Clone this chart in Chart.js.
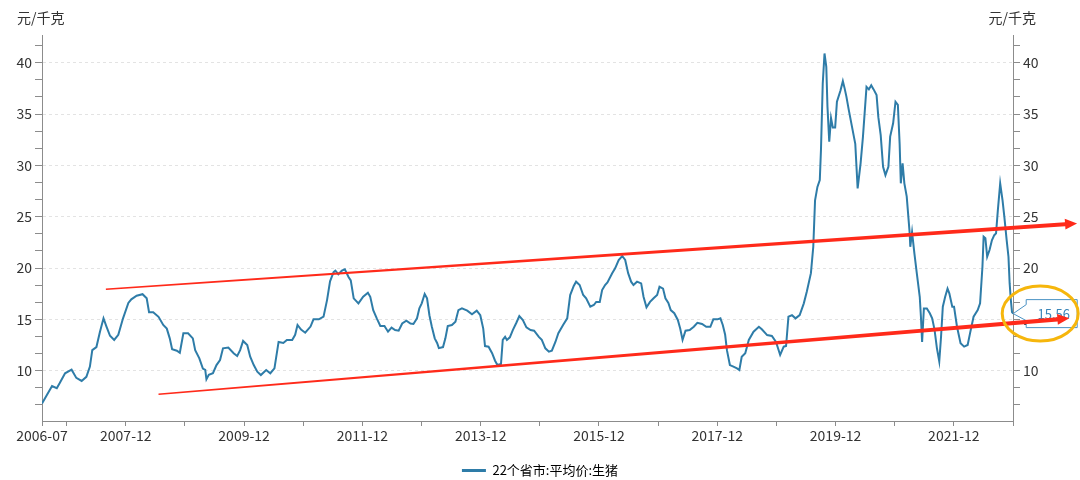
<!DOCTYPE html>
<html>
<head>
<meta charset="utf-8">
<script src="https://cdn.jsdelivr.net/npm/chart.js@4/dist/chart.umd.min.js"></script>
<style>
  html, body { margin: 0; padding: 0; background: #fff; }
</style>
</head>
<body>
<canvas id="myChart" width="1080" height="480"></canvas>
<script>
// 22个省市 生猪平均价 (decimal year, 元/千克)
var years = [
  2006.50,2006.58,2006.67,2006.75,2006.80,2006.89,2007.00,2007.08,2007.17,2007.25,
  2007.31,2007.35,2007.42,2007.48,2007.54,2007.59,2007.65,2007.72,2007.79,2007.87,
  2007.96,2008.01,2008.10,2008.20,2008.27,2008.31,2008.38,2008.47,2008.55,2008.61,
  2008.66,2008.70,2008.78,2008.83,2008.89,2008.97,2009.05,2009.09,2009.16,2009.22,
  2009.26,2009.28,2009.32,2009.39,2009.45,2009.51,2009.56,2009.65,2009.74,2009.80,
  2009.85,2009.90,2009.97,2010.02,2010.08,2010.14,2010.20,2010.29,2010.36,2010.43,
  2010.50,2010.58,2010.64,2010.73,2010.78,2010.82,2010.88,2010.95,2011.04,2011.09,
  2011.18,2011.26,2011.32,2011.37,2011.43,2011.46,2011.51,2011.57,2011.62,2011.68,
  2011.72,2011.77,2011.85,2011.93,2012.01,2012.05,2012.10,2012.16,2012.22,2012.29,
  2012.35,2012.41,2012.47,2012.53,2012.59,2012.66,2012.73,2012.78,2012.84,2012.88,
  2012.92,2012.97,2013.01,2013.05,2013.09,2013.14,2013.18,2013.21,2013.28,2013.32,
  2013.36,2013.43,2013.49,2013.54,2013.60,2013.69,2013.77,2013.85,2013.91,2013.96,
  2013.99,2014.05,2014.11,2014.16,2014.20,2014.26,2014.29,2014.33,2014.36,2014.41,
  2014.46,2014.52,2014.57,2014.63,2014.69,2014.76,2014.82,2014.90,2014.95,2015.01,
  2015.07,2015.12,2015.18,2015.23,2015.31,2015.38,2015.43,2015.49,2015.53,2015.59,
  2015.65,2015.70,2015.77,2015.83,2015.87,2015.93,2015.97,2016.02,2016.06,2016.14,
  2016.19,2016.25,2016.31,2016.36,2016.41,2016.46,2016.50,2016.56,2016.63,2016.67,
  2016.72,2016.78,2016.84,2016.90,2016.94,2017.00,2017.04,2017.09,2017.13,2017.19,
  2017.25,2017.29,2017.33,2017.38,2017.45,2017.52,2017.58,2017.66,2017.73,2017.80,
  2017.85,2017.92,2017.97,2018.01,2018.05,2018.08,2018.13,2018.19,2018.25,2018.29,
  2018.33,2018.39,2018.45,2018.53,2018.62,2018.67,2018.76,2018.84,2018.91,2018.98,
  2019.04,2019.08,2019.12,2019.18,2019.24,2019.31,2019.38,2019.43,2019.50,2019.54,
  2019.57,2019.61,2019.65,2019.67,2019.70,2019.73,2019.76,2019.78,2019.81,2019.84,
  2019.87,2019.91,2019.94,2020.00,2020.04,2020.07,2020.10,2020.14,2020.19,2020.25,
  2020.29,2020.34,2020.38,2020.44,2020.48,2020.52,2020.56,2020.61,2020.64,2020.68,
  2020.72,2020.76,2020.81,2020.84,2020.89,2020.93,2020.97,2021.00,2021.02,2021.05,
  2021.08,2021.12,2021.17,2021.18,2021.21,2021.25,2021.29,2021.34,2021.36,2021.38,
  2021.41,2021.46,2021.51,2021.55,2021.59,2021.63,2021.67,2021.70,2021.73,2021.77,
  2021.81,2021.84,2021.89,2021.92,2021.97,2022.03,2022.09,2022.15,2022.19,2022.25,
  2022.32,2022.36,2022.40,2022.42,2022.45,2022.48,2022.52,2022.56,2022.60,2022.63,
  2022.66,2022.70,2022.74,2022.77,2022.81,2022.84,2022.86,2022.88,2022.90,2022.92
];
var prices = [
  6.8,7.6,8.5,8.3,8.8,9.75,10.1,9.3,9.0,9.4,
  10.4,12.0,12.3,13.8,15.1,14.3,13.4,13.0,13.5,15.1,
  16.6,16.95,17.3,17.45,17.05,15.7,15.7,15.25,14.45,14.1,
  13.15,12.1,11.95,11.75,13.65,13.65,13.15,12.0,11.2,10.2,
  10.07,9.16,9.6,9.75,10.55,11.04,12.18,12.25,11.7,11.43,
  12.0,12.9,12.5,11.36,10.55,9.9,9.58,10.07,9.75,10.23,
  12.8,12.7,13.0,13.0,13.5,14.45,14.0,13.7,14.3,15.0,
  15.0,15.26,16.9,18.7,19.6,19.74,19.4,19.74,19.87,19.15,
  18.8,17.05,16.56,17.2,17.6,17.2,15.9,15.1,14.35,14.35,
  13.8,14.2,13.96,13.9,14.6,14.87,14.6,14.55,15.1,16.07,
  16.56,17.47,17.05,15.4,14.3,13.15,12.7,12.2,12.3,13.15,
  14.35,14.45,14.77,15.9,16.07,15.85,15.5,15.85,15.4,14.1,
  12.4,12.34,11.7,10.97,10.55,10.65,13.0,13.3,13.0,13.25,
  13.96,14.67,15.33,14.94,14.22,13.96,13.9,13.3,13.0,12.18,
  11.85,11.95,12.8,13.65,14.45,15.1,17.37,18.25,18.67,18.35,
  17.37,17.05,16.23,16.4,16.7,16.7,17.86,18.35,18.6,19.5,
  19.97,20.78,21.17,20.78,19.5,18.67,18.35,18.67,18.5,17.2,
  16.17,16.7,17.05,17.37,18.18,18.0,17.05,16.6,15.9,15.6,
  14.94,14.1,13.0,13.9,13.96,14.28,14.67,14.55,14.28,14.28,
  15.0,15.0,15.1,14.45,13.5,12.0,10.55,10.4,10.23,10.07,
  11.36,11.7,13.0,13.8,14.28,14.03,13.47,13.38,12.8,11.53,
  12.34,12.4,15.26,15.4,15.1,15.42,16.56,17.7,19.5,22.07,
  26.6,27.9,28.57,31.5,37.98,40.9,39.6,35.7,32.3,34.6,
  33.7,33.7,36.2,37.3,38.2,37.5,36.7,35.4,33.9,32.1,
  27.76,30.2,32.8,37.65,37.4,37.8,37.4,36.85,34.7,32.95,
  29.86,29.05,29.86,32.8,34.1,36.2,35.9,32.1,28.25,30.2,
  28.25,26.95,23.38,22.07,23.5,21.4,19.5,17.2,15.26,12.8,
  16.07,16.07,15.6,15.1,14.0,12.2,10.9,13.3,16.23,17.2,
  18.0,17.54,16.23,16.23,14.28,12.67,12.34,12.5,13.64,15.26,
  15.9,16.56,20.13,23.05,22.9,21.1,21.75,22.7,23.2,23.38,
  25.6,28.25,26.6,25.0,22.7,21.1,18.5,16.9,15.7,15.56
];
var seriesName = '22个省市:平均价:生猪';
var unit = '元/千克';

// x axis: tick marks every year, labels every two years
var xTicks = ['2006-07','2006-12','2007-12','2008-12','2009-12','2010-12','2011-12','2012-12',
  '2013-12','2014-12','2015-12','2016-12','2017-12','2018-12','2019-12','2020-12','2021-12','2022-12'];
var xLabels = ['2006-07','2007-12','2009-12','2011-12','2013-12','2015-12','2017-12','2019-12','2021-12'];
var yMin = 5.1, yMax = 42.7;

// hand drawn trend channel, [year, price] at both ends
var upperTrend = [[2007.58, 17.93], [2024.00, 24.35]];
var lowerTrend = [[2008.47, 7.70], [2023.87, 15.10]];

var FONT = '"Noto Sans CJK SC", "Open Sans", sans-serif';
Chart.defaults.font.family = FONT;
Chart.defaults.color = '#333';

function toYear(s) {
    var p = s.split('-');
    return +p[0] + (+p[1] - 1) / 12;
}
function fromYear(v) {
    var y = Math.floor(v + 1e-6);
    var m = Math.round((v - y) * 12) + 1;
    return y + '-' + (m < 10 ? '0' + m : m);
}
var isMajor = function(v) { return Math.abs(v / 5 - Math.round(v / 5)) < 1e-6; };

// major ticks every 5, two minor ticks in between
function buildYTicks(scale) {
    var step = 5 / 3, ticks = [];
    for (var k = Math.ceil(yMin / step); k * step <= yMax; k++) {
        ticks.push({ value: k * step });
    }
    scale.ticks = ticks;
}

function taperArrow(ctx, p1, p2, w1, w2, head) {
    var ang = Math.atan2(p2[1] - p1[1], p2[0] - p1[0]);
    var len = Math.hypot(p2[0] - p1[0], p2[1] - p1[1]);
    ctx.save();
    ctx.translate(p1[0], p1[1]);
    ctx.rotate(ang);
    ctx.beginPath();
    ctx.moveTo(0, -w1 / 2);
    ctx.lineTo(len - head, -w2 / 2);
    ctx.lineTo(len - head, -head * 0.45);
    ctx.lineTo(len, 0);
    ctx.lineTo(len - head, head * 0.45);
    ctx.lineTo(len - head, w2 / 2);
    ctx.lineTo(0, w1 / 2);
    ctx.closePath();
    ctx.fill();
    ctx.restore();
}

var annotate = {
    id: 'annotate',
    afterDraw: function(chart) {
        var ctx = chart.ctx, x = chart.scales.x, y = chart.scales.y, area = chart.chartArea;
        var toPx = function(p) { return [x.getPixelForValue(p[0]), y.getPixelForValue(p[1])]; };

        ctx.save();
        // unit titles over both value axes
        ctx.font = '14px ' + FONT;
        ctx.fillStyle = '#333';
        ctx.textBaseline = 'middle';
        ctx.textAlign = 'left';
        ctx.fillText(unit, area.left - 25, 18);
        ctx.textAlign = 'right';
        ctx.fillText(unit, area.right + 23, 18);

        // callout on the last value
        var last = prices.length - 1;
        var px = x.getPixelForValue(years[last]), py = y.getPixelForValue(prices[last]);
        var L = px + 13, R = px + 64, T = py - 14, B = py + 14;
        ctx.beginPath();
        ctx.moveTo(L, T);
        ctx.lineTo(R, T);
        ctx.lineTo(R, B);
        ctx.lineTo(L, B);
        ctx.lineTo(L, py + 7);
        ctx.lineTo(px, py);
        ctx.lineTo(L, py - 9);
        ctx.closePath();
        ctx.fillStyle = '#fff';
        ctx.fill();
        ctx.strokeStyle = '#4a92c4';
        ctx.lineWidth = 1;
        ctx.stroke();
        ctx.font = '13px ' + FONT;
        ctx.fillStyle = '#3a86b9';
        ctx.textAlign = 'center';
        ctx.fillText(prices[last].toFixed(2), (L + R) / 2 + 2, py);

        // red trend channel
        ctx.fillStyle = '#ff2a1a';
        taperArrow(ctx, toPx(upperTrend[0]), toPx(upperTrend[1]), 1.4, 4, 12);
        taperArrow(ctx, toPx(lowerTrend[0]), toPx(lowerTrend[1]), 1.4, 4.2, 12);

        // yellow ring round the latest price
        ctx.beginPath();
        ctx.ellipse(px + 27, py, 38, 27.5, 0, 0, Math.PI * 2);
        ctx.strokeStyle = '#f6b60c';
        ctx.lineWidth = 3;
        ctx.stroke();
        ctx.restore();
    }
};

var yAxis = function(pos, width) {
    return {
        type: 'linear',
        position: pos,
        min: yMin,
        max: yMax,
        afterBuildTicks: buildYTicks,
        afterFit: function(scale) { scale.width = width; },
        ticks: {
            autoSkip: false,
            padding: 3,
            font: { size: 14 },
            color: '#333',
            callback: function(v) { return isMajor(v) ? Math.round(v) : ''; }
        },
        grid: {
            drawOnChartArea: pos === 'left',
            color: function(c) { return c.tick && isMajor(c.tick.value) ? '#e3e3e3' : 'rgba(0,0,0,0)'; },
            tickColor: '#8c8c8c',
            tickLength: 7
        },
        border: { color: '#8c8c8c', dash: [3, 3] }
    };
};

var ctx = document.getElementById('myChart').getContext('2d');
var chart = new Chart(ctx, {
    type: 'line',
    data: {
        datasets: [{
            label: seriesName,
            data: years.map(function(t, i) { return { x: t, y: prices[i] }; }),
            borderColor: '#2e7ca8',
            backgroundColor: '#2e7ca8',
            borderWidth: 2,
            pointRadius: 0,
            tension: 0,
            fill: false
        }]
    },
    options: {
        responsive: false,
        animation: false,
        devicePixelRatio: 1,
        layout: { padding: { top: 35, bottom: -7, left: 0, right: 0 } },
        plugins: {
            tooltip: { enabled: false },
            legend: {
                position: 'bottom',
                labels: {
                    usePointStyle: true,
                    pointStyleWidth: 24,
                    padding: 10,
                    color: '#333',
                    font: { size: 13 },
                    generateLabels: function(chart) {
                        return chart.data.datasets.map(function(ds, i) {
                            return { text: ds.label, strokeStyle: ds.borderColor, fillStyle: ds.borderColor,
                                     lineWidth: 3, pointStyle: 'line', datasetIndex: i, hidden: false };
                        });
                    }
                }
            }
        },
        scales: {
            x: {
                type: 'linear',
                min: toYear(xTicks[0]),
                max: toYear(xTicks[xTicks.length - 1]),
                afterBuildTicks: function(scale) {
                    scale.ticks = xTicks.map(function(s) { return { value: toYear(s) }; });
                },
                afterFit: function(scale) { scale.height = 33; },
                ticks: {
                    autoSkip: false,
                    maxRotation: 0,
                    padding: 1,
                    font: { size: 14 },
                    color: '#333',
                    callback: function(v) {
                        var s = fromYear(v);
                        return xLabels.indexOf(s) >= 0 ? s : '';
                    }
                },
                grid: { drawOnChartArea: false, tickColor: '#8c8c8c', tickLength: 5 },
                border: { color: '#8c8c8c' }
            },
            y: yAxis('left', 42),
            y2: yAxis('right', 67)
        }
    },
    plugins: [annotate]
});
</script>
</body>
</html>
